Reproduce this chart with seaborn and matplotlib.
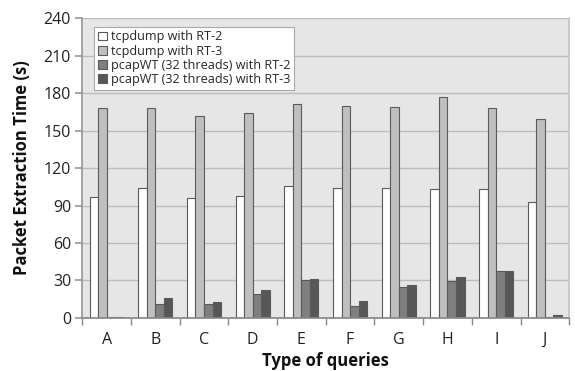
import matplotlib
matplotlib.use("Agg")
import matplotlib.pyplot as plt
import seaborn as sns
import pandas as pd
from matplotlib.ticker import FixedLocator

queries = ["A", "B", "C", "D", "E", "F", "G", "H", "I", "J"]
series_names = ["tcpdump with RT-2", "tcpdump with RT-3",
                "pcapWT (32 threads) with RT-2", "pcapWT (32 threads) with RT-3"]
tcpdump_rt2 = [97, 104, 96, 98, 106, 104, 104, 103, 103, 93]
tcpdump_rt3 = [168, 168, 162, 164, 171, 170, 169, 177, 168, 159]
pcapwt_rt2 = [0.5, 11, 11, 19, 30, 9.6, 24.7, 29.8, 37.3, 0.8]
pcapwt_rt3 = [1, 16, 12.8, 22.3, 31, 13.6, 26.3, 32.5, 37.8, 2]
yticks = [0, 30, 60, 90, 120, 150, 180, 210, 240]

rows = []
for name, vals in zip(series_names, [tcpdump_rt2, tcpdump_rt3, pcapwt_rt2, pcapwt_rt3]):
    for q, v in zip(queries, vals):
        rows.append({"query": q, "series": name, "time": v})
df = pd.DataFrame(rows)

sns.set_theme(style="white")
plt.rcParams['font.family'] = ['Open Sans', 'DejaVu Sans']

fig, ax = plt.subplots(figsize=(5.75, 3.71), dpi=100)
fig.subplots_adjust(left=0.143, right=0.99, top=0.951, bottom=0.143)

colors = ["#ffffff", "#bfbfbf", "#7f7f7f", "#575757"]
sns.barplot(data=df, x="query", y="time", hue="series", order=queries,
            hue_order=series_names, palette=colors, width=0.7,
            edgecolor="#5a5a5a", linewidth=0.8, ax=ax, legend=True)

ax.set_facecolor("#e6e6e6")
ax.set_ylim(0, 240)
ax.set_yticks(yticks)
ax.yaxis.grid(True, color="#bdbdbd", linewidth=1.0)
ax.set_axisbelow(True)
ax.set_xlim(-0.5, len(queries) - 0.5)

ax.spines["top"].set_visible(False)
ax.spines["right"].set_color("#c4c4c4")
ax.spines["left"].set_color("#999999")
ax.spines["bottom"].set_color("#888888")

ax.tick_params(axis="y", labelsize=11.5, labelcolor="#222222", length=5, color="#999999",
               left=True, pad=3)
ax.tick_params(axis="x", labelsize=11.5, labelcolor="#222222", length=0, pad=10)
ax.xaxis.set_minor_locator(FixedLocator([i + 0.5 for i in range(-1, len(queries))]))
ax.tick_params(axis="x", which="minor", length=5, color="#888888", bottom=True)

ax.set_ylabel("Packet Extraction Time (s)", fontsize=12, fontweight="bold",
              color="#111111", labelpad=9)
ax.set_xlabel("Type of queries", fontsize=12, fontweight="bold", color="#111111",
              labelpad=3)

leg = ax.legend(loc="upper left", bbox_to_anchor=(0.025, 0.972), fontsize=9.1,
                frameon=True, fancybox=False, edgecolor="#aaaaaa", facecolor="white",
                framealpha=1, handlelength=0.7, handleheight=0.7, handletextpad=0.3,
                labelspacing=0.1, borderpad=0.3, borderaxespad=0, title=None)
leg.get_frame().set_linewidth(0.8)

fig.savefig("out.png", dpi=100)
